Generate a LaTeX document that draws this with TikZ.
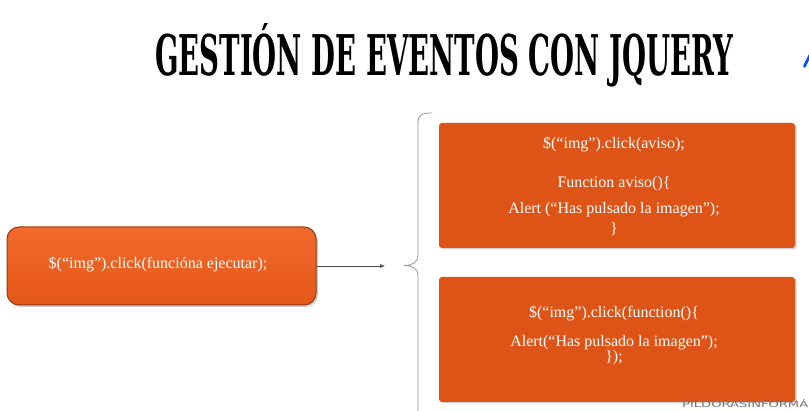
\documentclass[tikz,border=0pt]{standalone}
\usepackage{fontspec}
\setmainfont{Liberation Serif}
\newfontfamily\titlefont{DejaVu Serif}
\newfontfamily\markfont{DejaVu Sans}
\usetikzlibrary{shadows,arrows.meta}
\definecolor{orangebox}{RGB}{222,84,22}
\definecolor{orangetop}{RGB}{242,106,44}
\definecolor{orangebot}{RGB}{228,88,24}
\definecolor{orangeedge}{RGB}{150,58,18}
\definecolor{bracegray}{RGB}{150,150,150}
\begin{document}
\begin{tikzpicture}[x=1pt,y=-1pt,
  codebox/.style={fill=orangebox, rounded corners=3pt, draw=none,
    drop shadow={shadow xshift=1.5pt, shadow yshift=-1.5pt, opacity=0.35},
    minimum width=356pt, minimum height=125pt, inner sep=0pt},
  codetext/.style={text=white, font=\fontsize{16}{20}\selectfont, align=center, inner sep=0pt},
  mainbox/.style={top color=orangetop, bottom color=orangebot, draw=orangeedge, line width=1pt,
    rounded corners=12pt,
    drop shadow={shadow xshift=2pt, shadow yshift=-2pt, opacity=0.4},
    minimum width=309pt, minimum height=78pt, inner sep=0pt},
  link/.style={-{Latex[length=5pt,width=4pt]}, black!70, line width=0.6pt},
  bracket/.style={bracegray, line width=0.8pt}
]
\useasboundingbox (0,0) rectangle (809,411);
\fill[white] (0,0) rectangle (809,411);

% title
\node[anchor=base west, inner sep=0pt] (title) at (155,76)
  {\resizebox{578pt}{52pt}{\titlefont\bfseries GESTIÓN DE EVENTOS CON JQUERY}};

% left box
\node[mainbox] (left) at (161.5,266) {};
\node[text=white, font=\fontsize{16}{20}\selectfont, inner sep=0pt] (lefttext) at (158,264)
  {\$(“img”).click(funcióna ejecutar);};

% arrow
\coordinate (arrowend) at (385,266);
\draw[link] (left.east) -- (arrowend);

% brace
\draw[bracket] (432,113) .. controls (421,113) and (418,115) .. (418,123) -- (418,255)
  .. controls (418,263) and (412,265.5) .. (404,265.5)
  .. controls (412,265.5) and (418,268) .. (418,276) -- (418,420);

% top right box
\node[codebox] (boxA) at (617,185.5) {};
\node[codetext] (textA) at (614,186)
  {\$(“img”).click(aviso);\\[19pt]
   Function aviso()\{\\[6pt]
   Alert (“Has pulsado la imagen”);\\
   \}};

% bottom right box
\node[codebox] (boxB) at (617,339.5) {};
\node[codetext] (textB) at (614,335)
  {\$(“img”).click(function()\{\\[9pt]
   Alert(“Has pulsado la imagen”);\\[-5pt]
   \});};

% watermark and logo fragment
\node[anchor=base west, inner sep=0pt, text=black!55] (mark) at (682,408)
  {\resizebox{126pt}{8pt}{\markfont PÍLDORASINFORMÁ}};
\fill[blue!70!cyan] (809,54) -- (803,66) -- (805,68) -- (809,60) -- cycle;
\end{tikzpicture}
\end{document}
